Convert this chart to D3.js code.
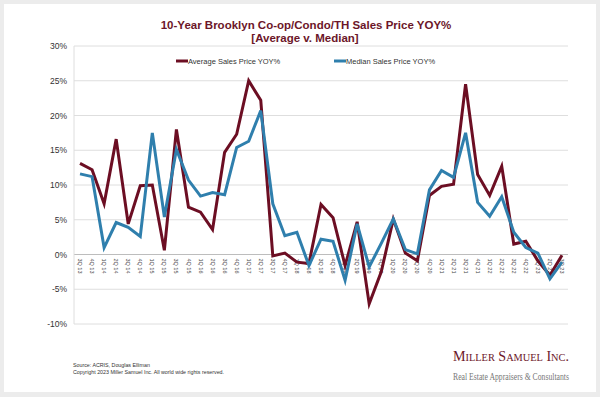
<!DOCTYPE html>
<html><head><meta charset="utf-8">
<script src="https://cdn.jsdelivr.net/npm/d3@7"></script>
<style>body{margin:0;background:#fff}svg{display:block}</style>
</head><body>
<script>
const quarters = ["3Q13","4Q13","1Q14","2Q14","3Q14","4Q14","1Q15","2Q15","3Q15","4Q15",
"1Q16","2Q16","3Q16","4Q16","1Q17","2Q17","3Q17","4Q17","1Q18","2Q18",
"3Q18","4Q18","1Q19","2Q19","3Q19","4Q19","1Q20","2Q20","3Q20","4Q20",
"1Q21","2Q21","3Q21","4Q21","1Q22","2Q22","3Q22","4Q22","1Q23","2Q23","3Q23"];
const averageYoY = [13.1,12.2,7.3,16.6,4.4,9.9,10.0,0.6,18.0,6.8,
6.1,3.6,14.7,17.3,25.0,22.2,-0.2,0.2,-1.1,-1.3,
7.2,5.3,-1.6,4.7,-7.1,-2.5,5.1,0.2,-0.9,8.5,
9.8,10.1,24.5,11.5,8.5,12.7,1.5,1.9,-0.9,-3.0,-0.1];
const medianYoY = [11.6,11.2,1.0,4.6,3.9,2.6,17.5,5.4,15.1,10.7,
8.4,8.9,8.6,15.4,16.3,20.7,7.3,2.7,3.2,-1.6,
2.2,1.9,-3.7,4.4,-1.8,1.6,5.1,0.7,0.1,9.3,
12.1,11.1,17.5,7.5,5.5,8.3,3.2,1.0,0.2,-3.5,-1.1];
const yTicks = [-10,-5,0,5,10,15,20,25,30];
const seriesNames = ["Average Sales Price YOY%","Median Sales Price YOY%"];
const seriesColors = ["#6c0e23","#2f7fad"];

const W=600,H=397;
const svg=d3.select("body").append("svg").attr("width",W).attr("height",H);
svg.append("rect").attr("width",W).attr("height",H).attr("fill","#ececec");
svg.append("rect").attr("x",4).attr("y",4).attr("width",W-8).attr("height",H-9).attr("fill","#fff");

const x=d3.scaleBand().domain(quarters).range([74,568]);
const y=d3.scaleLinear().domain([-10,30]).range([324,46]);
const font="'Liberation Sans', Arial, sans-serif";

// gridlines
svg.append("g").selectAll("line").data(yTicks).join("line")
 .attr("x1",74).attr("x2",568).attr("y1",d=>y(d)).attr("y2",d=>y(d))
 .attr("stroke",d=>d===0?"#bdbdbd":"#dedede").attr("stroke-width",1);
svg.append("line").attr("x1",74).attr("x2",74).attr("y1",y(30)).attr("y2",y(-10)).attr("stroke","#dedede");

// y axis labels
const yAxis=d3.axisLeft(y).tickValues(yTicks).tickFormat(d=>d+"%").tickSize(0).tickPadding(7);
const ga=svg.append("g").attr("transform","translate(74,0)").call(yAxis);
ga.select(".domain").remove();
ga.selectAll("text").attr("font-family",font).attr("font-size",8.5).attr("fill","#333");

// x axis labels
const xAxis=d3.axisBottom(x).tickSize(0).tickFormat(d=>d.slice(0,2)+" "+d.slice(2));
const gx=svg.append("g").attr("transform",`translate(0,${y(0)})`).call(xAxis);
gx.select(".domain").remove();
gx.selectAll("text").attr("font-family",font).attr("font-size",5.5).attr("fill","#444")
 .attr("transform","rotate(90)").attr("text-anchor","start").attr("dy","0.35em").attr("x",4).attr("y",0);

// lines
const line=d3.line().x((d,i)=>x(quarters[i])+x.bandwidth()/2).y(d=>y(d));
[averageYoY,medianYoY].forEach((s,k)=>{
 svg.append("path").datum(s).attr("d",line).attr("fill","none")
  .attr("stroke",seriesColors[k]).attr("stroke-width",3).attr("stroke-linejoin","miter");
});

// title
svg.append("text").attr("x",306).attr("y",29).attr("text-anchor","middle").attr("font-family",font)
 .attr("font-weight","bold").attr("font-size",11.5).attr("fill","#6c1629").text("10-Year Brooklyn Co-op/Condo/TH Sales Price YOY%");
svg.append("text").attr("x",305).attr("y",42).attr("text-anchor","middle").attr("font-family",font)
 .attr("font-weight","bold").attr("font-size",11.5).attr("fill","#6c1629").text("[Average v. Median]");

// legend
const lx=[176,334];
seriesNames.forEach((n,k)=>{
 svg.append("line").attr("x1",lx[k]).attr("x2",lx[k]+12).attr("y1",61).attr("y2",61)
  .attr("stroke",seriesColors[k]).attr("stroke-width",3);
 svg.append("text").attr("x",lx[k]+12).attr("y",63.5).attr("font-family",font).attr("font-size",7.5)
  .attr("fill","#333").text(n);
});

// footer
svg.append("text").attr("x",73).attr("y",367).attr("font-family",font).attr("font-size",5.3).attr("fill","#333")
 .text("Source: ACRIS, Douglas Elliman");
svg.append("text").attr("x",73).attr("y",374).attr("font-family",font).attr("font-size",5.3).attr("fill","#333")
 .text("Copyright 2023 Miller Samuel Inc.  All world wide rights reserved.");

// logo
svg.append("text").attr("x",453).attr("y",361).attr("font-family","'Liberation Serif', serif").attr("font-size",15)
 .style("font-variant","small-caps").attr("fill","#6c1629").attr("textLength",116).attr("lengthAdjust","spacingAndGlyphs")
 .text("Miller Samuel Inc.");
svg.append("text").attr("x",453).attr("y",380).attr("font-family","'Liberation Serif', serif").attr("font-size",9.5)
 .attr("fill","#777").attr("textLength",116).attr("lengthAdjust","spacingAndGlyphs")
 .text("Real Estate Appraisers & Consultants");
</script>
</body></html>
